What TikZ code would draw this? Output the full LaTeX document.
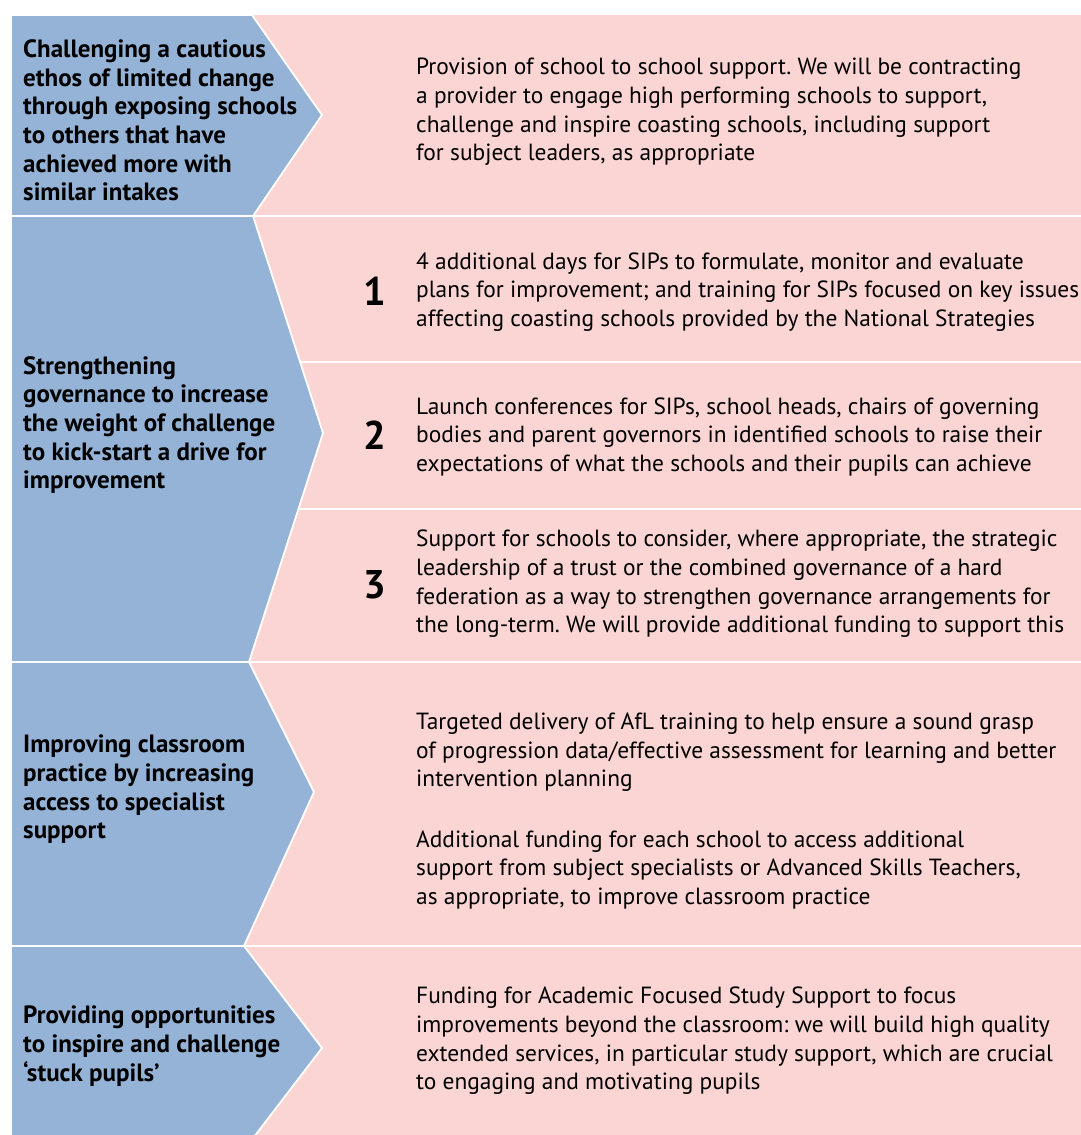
\documentclass[tikz,border=0pt]{standalone}
\usepackage{fontspec}
\setmainfont{PT Sans}
\frenchspacing
\definecolor{chevblue}{RGB}{149,179,215}
\definecolor{rowpink}{RGB}{250,213,211}
\begin{document}
\begin{tikzpicture}[x=1pt,y=-1pt,
  chev/.style={fill=chevblue,draw=white,line width=1.8pt,line join=miter},
  sepline/.style={draw=white,line width=2pt},
  lefttext/.style={anchor=west,align=left,inner sep=0pt,font=\fontsize{25}{28.6}\selectfont\bfseries},
  righttext/.style={anchor=west,align=left,inner sep=0pt,font=\fontsize{23.4}{28.6}\selectfont},
  numtext/.style={anchor=center,inner sep=0pt,font=\fontsize{40}{40}\selectfont\bfseries}]
\useasboundingbox (0,0) rectangle (1081,1135);
\clip (0,0) rectangle (1081,1135);
% pink background
\fill[rowpink] (11,15) rectangle (1081,1160);
% sub-row separators in row 2
\draw[sepline] (270,362) -- (1081,362);
\draw[sepline] (270,509) -- (1081,509);
% chevrons
\draw[chev] (11,15) -- (252,15) -- (322,115) -- (253,216) -- (11,216) -- cycle;
\draw[chev] (11,216) -- (253,216) -- (323,433) -- (249,662) -- (11,662) -- cycle;
\draw[chev] (11,662) -- (249,662) -- (314,792) -- (244,946) -- (11,946) -- cycle;
\draw[chev] (11,946) -- (244,946) -- (322,1048) -- (244,1150) -- (11,1150) -- cycle;
% full row separators
\draw[sepline] (11,216) -- (1081,216);
\draw[sepline] (11,662) -- (1081,662);
\draw[sepline] (11,946) -- (1081,946);
% left labels
\node[lefttext] (l1) at (23,120.5) {Challenging a cautious\\ethos of limited change\\through exposing schools\\to others that have\\achieved more with\\similar intakes};
\node[lefttext] (l2) at (23,425) {Strengthening\\governance to increase\\the weight of challenge\\to kick-start a drive for\\improvement};
\node[lefttext] (l3) at (23,789.5) {Improving classroom\\practice by increasing\\access to specialist\\support};
\node[lefttext] (l4) at (23,1046) {Providing opportunities\\to inspire and challenge\\‘stuck pupils’};
% numbers
\node[numtext] (n1) at (375,291) {1};
\node[numtext] (n2) at (375,435) {2};
\node[numtext] (n3) at (375,585) {3};
% right texts
\node[righttext] (r1) at (416,112) {Provision of school to school support. We will be contracting\\a provider to engage high performing schools to support,\\challenge and inspire coasting schools, including support\\for subject leaders, as appropriate};
\node[righttext] (r2a) at (416,292) {4 additional days for SIPs to formulate, monitor and evaluate\\plans for improvement; and training for SIPs focused on key issues\\affecting coasting schools provided by the National Strategies};
\node[righttext] (r2b) at (416,437) {Launch conferences for SIPs, school heads, chairs of governing\\bodies and parent governors in identified schools to raise their\\expectations of what the schools and their pupils can achieve};
\node[righttext] (r2c) at (416,584) {Support for schools to consider, where appropriate, the strategic\\leadership of a trust or the combined governance of a hard\\federation as a way to strengthen governance arrangements for\\the long-term. We will provide additional funding to support this};
\node[righttext] (r3) at (416,811) {Targeted delivery of AfL training to help ensure a sound grasp\\of progression data/effective assessment for learning and better\\intervention planning\\[32pt]Additional funding for each school to access additional\\support from subject specialists or Advanced Skills Teachers,\\as appropriate, to improve classroom practice};
\node[righttext] (r4) at (416,1041) {Funding for Academic Focused Study Support to focus\\improvements beyond the classroom: we will build high quality\\extended services, in particular study support, which are crucial\\to engaging and motivating pupils};
\end{tikzpicture}
\end{document}
